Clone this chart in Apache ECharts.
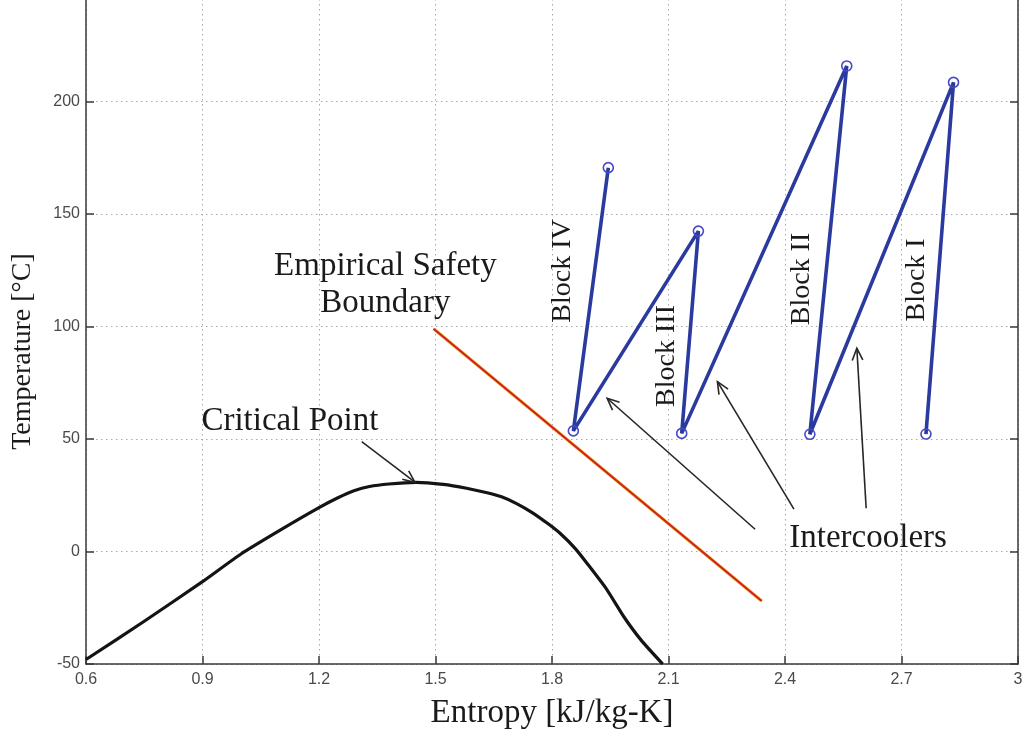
<!DOCTYPE html>
<html>
<head>
<meta charset="utf-8">
<script src="https://cdn.jsdelivr.net/npm/echarts@6/dist/echarts.min.js"></script>
<style>
  html, body { margin: 0; padding: 0; background: #ffffff; }
  #chart { width: 1024px; height: 732px; }
</style>
</head>
<body>
<div id="chart"></div>
<script>
// CO2 saturation dome: entropy [kJ/kg-K] and temperature [°C]
const domeS = [0.6, 0.75, 0.9, 1.0, 1.1, 1.2, 1.25, 1.29, 1.33, 1.38, 1.45, 1.52, 1.58, 1.63, 1.67, 1.71, 1.75, 1.79, 1.82, 1.86, 1.89, 1.94, 1.985, 2.03, 2.085];
const domeT = [-48, -31, -13.4, -1, 9.5, 19.5, 24, 27, 28.9, 30, 30.7, 29.8, 28.1, 26.2, 24.3, 21.2, 17.2, 12.3, 8.2, 1.3, -5.2, -16.6, -29, -39.5, -50];

// Empirical safety boundary
const boundaryS = [1.495, 2.34];
const boundaryT = [99, -22];

// Compression path: Block I, intercooler, Block II, intercooler, Block III, intercooler, Block IV
const pathS = [2.763, 2.834, 2.464, 2.559, 2.134, 2.177, 1.855, 1.945];
const pathT = [52.2, 208.5, 52.1, 215.8, 52.5, 142.4, 53.6, 170.6];

// Axis ticks
const xTicks = [0.6, 0.9, 1.2, 1.5, 1.8, 2.1, 2.4, 2.7, 3];
const yTicks = [-50, 0, 50, 100, 150, 200];

// Block labels (entropy, temperature of the label centre)
const blockNames = ['Block I', 'Block II', 'Block III', 'Block IV'];
const blockLabelS = [2.74, 2.444, 2.096, 1.828];
const blockLabelT = [120.7, 121.1, 86.9, 124.7];

// Annotation texts and arrows (tail -> head, in entropy/temperature)
const notes = [
  { text: 'Empirical Safety\nBoundary', s: 1.371, t: 118.4 },
  { text: 'Critical Point', s: 1.125, t: 58 },
  { text: 'Intercoolers', s: 2.614, t: 6 }
];
const arrows = [
  { from: [1.31, 48.8], to: [1.447, 30.8] },
  { from: [2.323, 9.9], to: [1.942, 68.1] },
  { from: [2.423, 18.8], to: [2.226, 75.5] },
  { from: [2.609, 19.2], to: [2.585, 90.3] }
];

const zip = (a, b) => a.map((v, i) => [v, b[i]]);

const serif = '"Liberation Serif", "Times New Roman", serif';
const sans = '"Liberation Sans", Arial, sans-serif';

const chart = echarts.init(document.getElementById('chart'), null, { renderer: 'canvas' });

const xMin = xTicks[0], xMax = xTicks[xTicks.length - 1];
const yStep = yTicks[1] - yTicks[0];

const axisLineStyle = { color: '#3a3a3a', width: 1.5 };
const gridLineStyle = { color: '#a8a8b0', width: 1, type: [1.5, 3.5] };

chart.setOption({
  backgroundColor: '#ffffff',
  animation: false,
  // the plot runs slightly past the top edge of the canvas
  grid: { left: 86, right: 6, top: -11, bottom: 68, containLabel: false, outerBoundsMode: 'none' },
  xAxis: [{
    type: 'value',
    min: xMin, max: xMax, interval: xTicks[1] - xTicks[0],
    name: 'Entropy [kJ/kg-K]',
    nameLocation: 'middle',
    nameGap: 33,
    nameTextStyle: { fontFamily: serif, fontSize: 33, color: '#1a1a1a' },
    axisLine: { show: true, onZero: false, lineStyle: axisLineStyle },
    axisTick: { show: true, inside: true, length: 8, lineStyle: axisLineStyle },
    axisLabel: {
      fontFamily: sans, fontSize: 16, color: '#4a4a4a', margin: 8,
      formatter: v => String(+v.toFixed(1))
    },
    splitLine: { show: true, lineStyle: gridLineStyle }
  }],
  yAxis: [{
    type: 'value',
    min: yTicks[0], max: yTicks[yTicks.length - 1] + yStep, interval: yStep,
    name: 'Temperature [°C]',
    nameLocation: 'middle',
    nameGap: 49,
    nameTextStyle: { fontFamily: serif, fontSize: 28, color: '#1a1a1a', padding: [0, 50, 0, 0] },
    axisLine: { show: true, onZero: false, lineStyle: axisLineStyle },
    axisTick: { show: true, inside: true, length: 8, lineStyle: axisLineStyle },
    axisLabel: { fontFamily: sans, fontSize: 16, color: '#4a4a4a', margin: 6 },
    splitLine: { show: true, lineStyle: gridLineStyle }
  }, {
    type: 'value',
    position: 'right',
    min: yTicks[0], max: yTicks[yTicks.length - 1] + yStep, interval: yStep,
    axisLine: { show: true, onZero: false, lineStyle: axisLineStyle },
    axisTick: { show: true, inside: true, length: 8, lineStyle: axisLineStyle },
    axisLabel: { show: false },
    splitLine: { show: false }
  }],
  series: [
    {
      name: 'Saturation dome',
      type: 'line',
      data: zip(domeS, domeT),
      smooth: 0.2,
      showSymbol: false,
      lineStyle: { color: '#141414', width: 3.2, join: 'round' },
      z: 3
    },
    {
      name: 'Safety boundary halo',
      type: 'line',
      data: zip(boundaryS, boundaryT),
      showSymbol: false,
      lineStyle: { color: '#f2bc48', width: 3.4 },
      z: 3
    },
    {
      name: 'Safety boundary',
      type: 'line',
      data: zip(boundaryS, boundaryT),
      showSymbol: false,
      lineStyle: { color: '#cf2418', width: 2.2 },
      z: 4
    },
    {
      name: 'Compression path',
      type: 'line',
      data: zip(pathS, pathT),
      symbol: 'circle',
      symbolSize: 10,
      showAllSymbol: true,
      itemStyle: { color: 'rgba(0,0,0,0)', borderColor: '#4848c8', borderWidth: 1.6 },
      lineStyle: { color: '#2b3a9e', width: 3.6 },
      z: 5
    }
  ]
});

// Text annotations and arrows placed through the chart's own coordinate system
function buildGraphics() {
  const px = (s, t) => chart.convertToPixel({ gridIndex: 0 }, [s, t]);
  const elements = [];

  notes.forEach(n => {
    const p = px(n.s, n.t);
    elements.push({
      type: 'text', x: p[0], y: p[1], z: 20,
      style: {
        text: n.text, fontFamily: serif, fontSize: 33, lineHeight: 37,
        fill: '#1a1a1a', align: 'center', verticalAlign: 'middle'
      }
    });
  });

  blockNames.forEach((name, i) => {
    const p = px(blockLabelS[i], blockLabelT[i]);
    elements.push({
      type: 'text', x: p[0], y: p[1], rotation: Math.PI / 2, z: 20,
      style: {
        text: name, fontFamily: serif, fontSize: 28,
        fill: '#1a1a1a', align: 'center', verticalAlign: 'middle'
      }
    });
  });

  arrows.forEach(a => {
    const p0 = px(a.from[0], a.from[1]);
    const p1 = px(a.to[0], a.to[1]);
    const ang = Math.atan2(p1[1] - p0[1], p1[0] - p0[0]);
    const len = 13, spread = 0.42;
    const w1 = [p1[0] - len * Math.cos(ang - spread), p1[1] - len * Math.sin(ang - spread)];
    const w2 = [p1[0] - len * Math.cos(ang + spread), p1[1] - len * Math.sin(ang + spread)];
    elements.push({
      type: 'line', z: 20,
      shape: { x1: p0[0], y1: p0[1], x2: p1[0], y2: p1[1] },
      style: { stroke: '#262626', lineWidth: 1.6 }
    });
    elements.push({
      type: 'polyline', z: 20,
      shape: { points: [w1, p1, w2] },
      style: { stroke: '#262626', lineWidth: 1.6, fill: null }
    });
  });

  chart.setOption({ graphic: { elements } });
}

buildGraphics();
</script>
</body>
</html>
